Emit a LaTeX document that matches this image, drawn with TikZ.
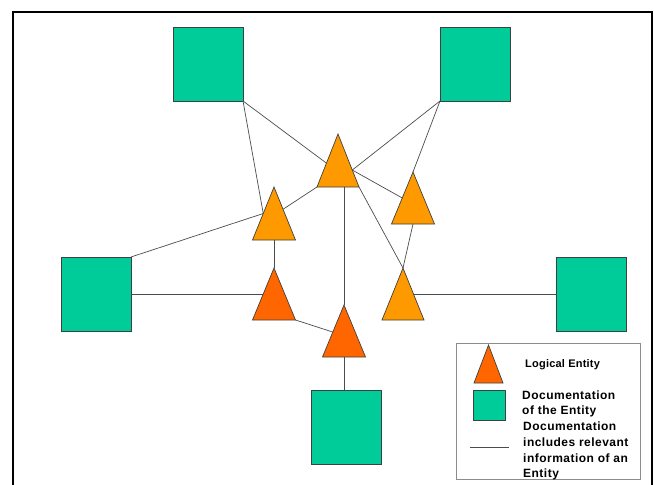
\documentclass[tikz,border=0pt]{standalone}
\usepackage{fontspec}
\setmainfont{Liberation Sans}
\usetikzlibrary{calc}
\definecolor{docgreen}{RGB}{0,204,153}
\definecolor{entorange}{RGB}{255,153,0}
\definecolor{entred}{RGB}{255,102,0}
\newcommand{\mytri}[6]{%
  \coordinate (#1-a) at (#2,#3);
  \coordinate (#1-l) at ($(#2,#3)+(-#4,#5)$);
  \coordinate (#1-r) at ($(#2,#3)+(#4,#5)$);
  \filldraw[fill=#6, draw=black!75, line width=0.7pt, line join=miter] (#1-a) -- (#1-l) -- (#1-r) -- cycle;}
\begin{document}
\begin{tikzpicture}[x=1pt,y=-1pt,
  doc/.style={draw=black!75, line width=0.8pt, fill=docgreen, minimum width=70pt, minimum height=74pt, inner sep=0pt, outer sep=0pt},
  link/.style={draw=black!70, line width=0.7pt},
  legtext/.style={anchor=base west, inner sep=0pt, font=\bfseries\fontsize{12}{16}\selectfont\addfontfeature{LetterSpace=4}}]
\useasboundingbox (0,0) rectangle (654,485);
\fill[white] (0,0) rectangle (654,485);
\draw[line width=2.5pt, line join=miter] (13,486) -- (13,12) -- (652,12) -- (652,486);
% documentation squares
\node[doc] (S1) at (208,64) {};
\node[doc] (S2) at (475,64) {};
\node[doc] (S3) at (96,294) {};
\node[doc] (S4) at (591.5,294) {};
\node[doc] (S5) at (346.5,427) {};
% logical entities
\mytri{T0}{338}{134}{21}{53}{entorange}
\mytri{T1}{274}{187}{21.5}{53}{entorange}
\mytri{T2}{413}{172}{21.5}{52}{entorange}
\mytri{T3}{274}{268}{21.5}{52}{entred}
\mytri{T4}{403}{268}{21}{52}{entorange}
\mytri{T5}{344}{305}{21.5}{52}{entred}
% attachment points
\coordinate (T0L) at ($(T0-a)!0.55!(T0-l)$);
\coordinate (T0R) at ($(T0-a)!0.68!(T0-r)$);
\coordinate (T1L) at ($(T1-a)!0.5!(T1-l)$);
\coordinate (T1R) at ($(T1-a)!0.42!(T1-r)$);
\coordinate (T2L) at ($(T2-a)!0.5!(T2-l)$);
\coordinate (T2B) at ($(T2-l)!0.5!(T2-r)$);
\coordinate (T1B) at ($(T1-l)!0.5!(T1-r)$);
\coordinate (T3L) at ($(T3-a)!0.5!(T3-l)$);
\coordinate (T4R) at ($(T4-a)!0.5!(T4-r)$);
\coordinate (T5L) at ($(T5-a)!0.52!(T5-l)$);
% connectors
\draw[link] (S1.south east) -- (T0L);
\draw[link] (S1.south east) -- (T1L);
\draw[link] (S2.south west) -- (T0R);
\draw[link] (S2.south west) -- (T2-a);
\draw[link] (T0R) -- (T2L);
\draw[link] (T0-r) -- (T4-a);
\draw[link] (T0-l -| T5-a) -- (T5-a);
\draw[link] (T0-l) -- (T1R);
\draw[link] (S3.north east) -- (T1L);
\draw[link] (T1B) -- (T3-a);
\draw[link] (T2B) -- (T4-a);
\draw[link] (T3L -| S3.east) -- (T3L);
\draw[link] (T4R) -- (T4R -| S4.west);
\draw[link] (T3-r) -- (T5L);
\draw[link] (T5-a |- T5-l) -- (T5-a |- S5.north);
% legend
\node[draw=black!45, line width=0.8pt, fill=white, minimum width=184pt, minimum height=136pt, inner sep=0pt, outer sep=0pt] (L) at (548,411) {};
\mytri{LT}{488.5}{345}{14.5}{38}{entred}
\node[doc, minimum width=32pt, minimum height=30pt] (LS) at (489,405) {};
\coordinate (LL1) at (470,447);
\coordinate (LL2) at (509,447);
\draw[link] (LL1) -- (LL2);
\node[legtext, font=\bfseries\fontsize{11}{14}\selectfont\addfontfeature{LetterSpace=2}] (t1) at (525,367) {Logical Entity};
\node[legtext] (t2) at (522,399) {Documentation};
\node[legtext] (t3) at (522,414) {of the Entity};
\node[legtext] (t4) at (523,430) {Documentation};
\node[legtext] (t5) at (523,446) {includes relevant};
\node[legtext] (t6) at (523,462) {information of an};
\node[legtext] (t7) at (523,477) {Entity};
\end{tikzpicture}
\end{document}
